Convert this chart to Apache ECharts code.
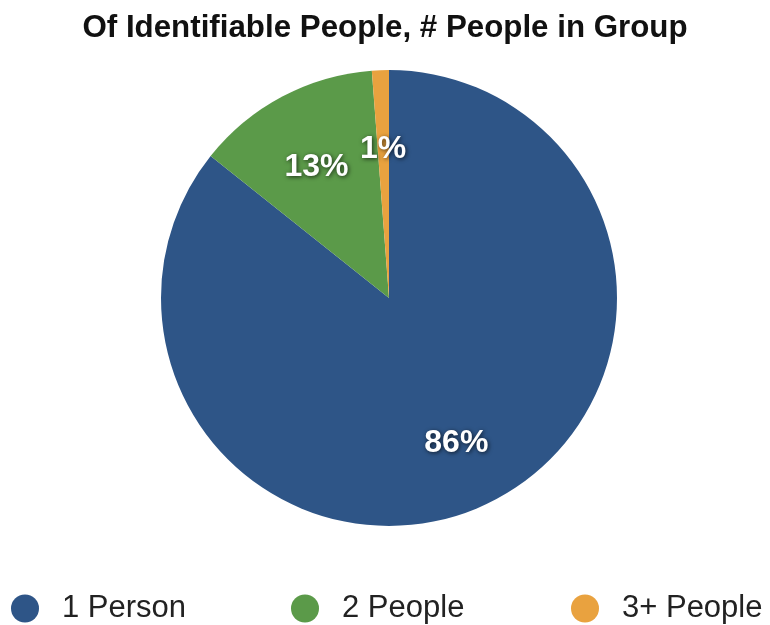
<!DOCTYPE html>
<html>
<head>
<meta charset="utf-8">
<script src="https://cdn.jsdelivr.net/npm/echarts@6/dist/echarts.min.js"></script>
<style>html,body{margin:0;padding:0;background:#fff}#c{width:770px;height:625px}</style>
</head>
<body>
<div id="c"></div>
<script>
const titleText = 'Of Identifiable People, # People in Group';
const categories = ['1 Person', '2 People', '3+ People'];
const values = [85.7, 13.1, 1.2];
const colors = ['#2e5587', '#5b9a49', '#e9a23f'];

const chart = echarts.init(document.getElementById('c'));
const FONT = '"Liberation Sans", Arial, Helvetica, sans-serif';

const pieData = categories.map((n, i) => ({ name: n, value: values[i], itemStyle: { color: colors[i] } }));
const labelData = categories.map((n, i) => ({ name: 'lbl-' + n, value: values[i] }));

const legendLefts = [11, 291, 571];
const legends = categories.map((n, i) => ({
  left: legendLefts[i],
  top: 593,
  padding: 0,
  orient: 'horizontal',
  icon: 'circle',
  itemWidth: 28,
  itemHeight: 28,
  selectedMode: false,
  data: [{ name: n, itemStyle: { color: colors[i], opacity: 1 } }],
  textStyle: { fontSize: 31, color: '#222', fontFamily: FONT, padding: [0, 0, 0, 18] }
}));

const valStyle = {
  color: '#fff',
  fontSize: 32,
  lineHeight: 32,
  fontWeight: 'bold',
  fontFamily: FONT,
  textShadowColor: 'rgba(0,0,0,0.7)',
  textShadowBlur: 4,
  textShadowOffsetX: 1,
  textShadowOffsetY: 1
};

chart.setOption({
  animation: false,
  backgroundColor: '#fff',
  title: {
    text: titleText,
    left: 'center',
    top: 8,
    textStyle: { fontSize: 31.3, fontWeight: 'bold', color: '#111', fontFamily: FONT }
  },
  legend: legends,
  series: [
    {
      type: 'pie',
      center: [389, 298],
      radius: [0, 228],
      startAngle: 90,
      clockwise: true,
      label: { show: false },
      labelLine: { show: false },
      emphasis: { disabled: true },
      data: pieData
    },
    {
      type: 'pie',
      center: [389, 298],
      radius: [0, 304],
      startAngle: 90,
      clockwise: true,
      silent: true,
      itemStyle: { color: 'rgba(0,0,0,0)' },
      labelLine: { show: false },
      emphasis: { disabled: true },
      label: {
        show: true,
        position: 'inside',
        formatter: p => '{s|}\n{v|' + Math.round(p.value) + '%}',
        rich: {
          s: { fontSize: 12, lineHeight: 12 },
          v: valStyle
        }
      },
      data: labelData
    }
  ]
});
</script>
</body>
</html>
